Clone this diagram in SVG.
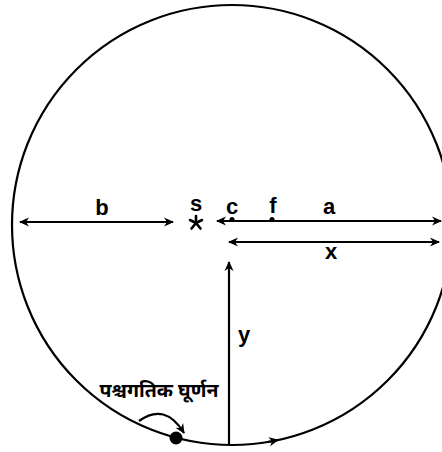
<svg xmlns="http://www.w3.org/2000/svg" width="442" height="452" viewBox="0 0 442 452">
<style>
.ln{stroke:#000;stroke-width:2.2;fill:none}
.lb{font-family:"Liberation Sans",Arial,sans-serif;font-weight:bold;font-size:22px;fill:#000;text-anchor:middle}
.dv{font-family:"Noto Sans Devanagari","Lohit Devanagari","Noto Sans",sans-serif;font-weight:bold;font-size:19.5px;fill:#000;text-anchor:middle}
</style>
<defs>
<marker id="ah" viewBox="0 0 10 10" refX="9" refY="5" markerWidth="10" markerHeight="10" markerUnits="userSpaceOnUse" orient="auto-start-reverse">
<path d="M0,0.5 L10,5 L0,9.5 L3,5 Z" fill="#000"/>
</marker>
</defs>
<rect width="442" height="452" fill="#fff"/>
<g id="circle">
<circle cx="232" cy="225" r="220" class="ln"/>
</g>
<g id="connectors">
<line x1="20" y1="222" x2="173" y2="222" class="ln" marker-start="url(#ah)" marker-end="url(#ah)"/>
<line x1="217" y1="221" x2="441" y2="221" class="ln" marker-start="url(#ah)" marker-end="url(#ah)"/>
<line x1="229" y1="242" x2="439" y2="242" class="ln" marker-start="url(#ah)" marker-end="url(#ah)"/>
<line x1="229" y1="445" x2="229" y2="262" class="ln" marker-end="url(#ah)"/>
<path d="M268,442 L278,440" class="ln" marker-end="url(#ah)"/>
<path d="M139,421 Q165,402 184,433" class="ln" marker-end="url(#ah)"/>
</g>
<g id="points">
<circle cx="232" cy="219.5" r="2.5" fill="#000"/>
<circle cx="272" cy="219.5" r="2.5" fill="#000"/>
<circle cx="176" cy="438" r="6.5" fill="#000"/>
<g id="star" stroke="#000" stroke-width="2.6" stroke-linecap="round">
<line x1="196" y1="216" x2="196" y2="223"/>
<line x1="196" y1="223" x2="190" y2="220"/>
<line x1="196" y1="223" x2="202" y2="220"/>
<line x1="196" y1="223" x2="191.5" y2="228.5"/>
<line x1="196" y1="223" x2="200.5" y2="228.5"/>
</g>
</g>
<g id="labels">
<text x="102" y="215" class="lb">b</text>
<text x="196" y="211" class="lb">s</text>
<text x="232" y="214" class="lb">c</text>
<text x="273" y="213" class="lb">f</text>
<text x="329" y="214" class="lb">a</text>
<text x="331" y="259" class="lb">x</text>
<text x="244" y="342" class="lb">y</text>
<text x="159" y="397" class="dv">पश्चगतिक घूर्णन</text>
</g>
</svg>
